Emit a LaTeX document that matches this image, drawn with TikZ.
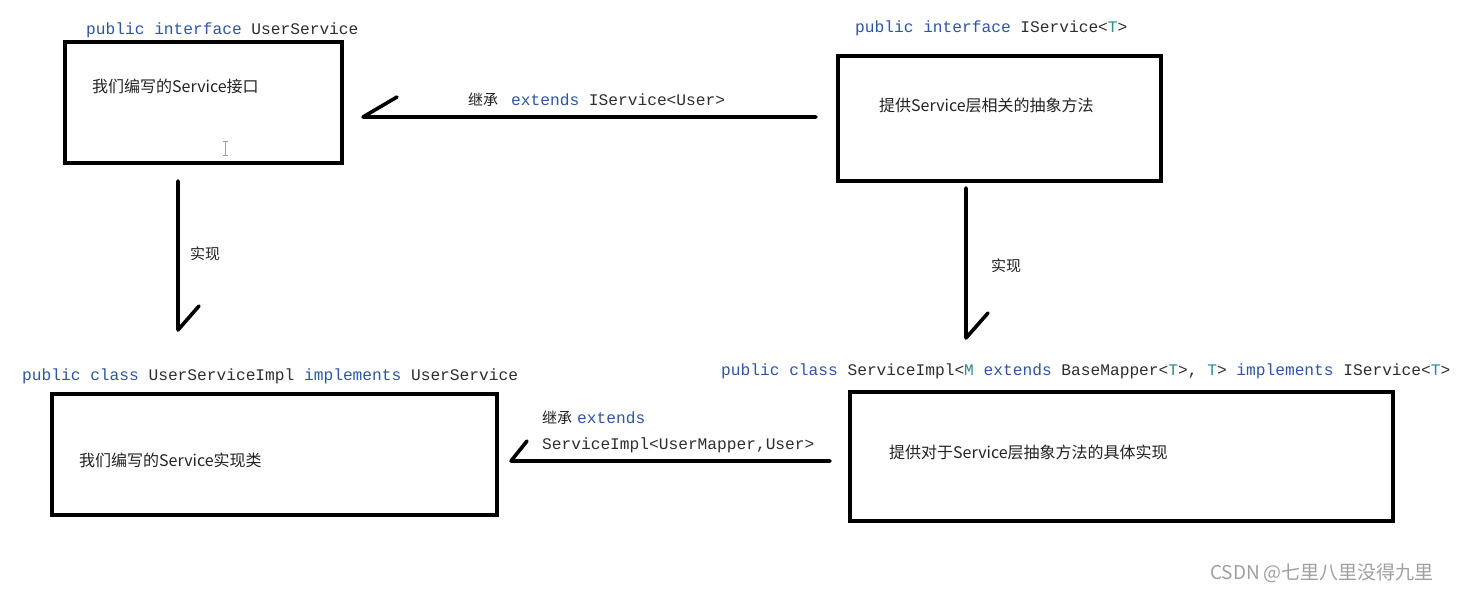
\documentclass[tikz,border=0pt]{standalone}
\usepackage{fontspec}
\newfontfamily\cjk{Noto Sans CJK SC}
\newfontfamily\code{Liberation Mono}
\definecolor{kw}{HTML}{2F55A4}
\definecolor{tp}{HTML}{2E8A8E}
\definecolor{idc}{HTML}{2E2E2E}
\definecolor{txt}{HTML}{222222}
\definecolor{wm}{HTML}{A0A0A0}
\newcommand{\K}[1]{\textcolor{kw}{#1}}
\newcommand{\Tp}[1]{\textcolor{tp}{#1}}
\newcommand{\codefont}{\code\fontsize{16.2}{18}\selectfont}
\begin{document}
\begin{tikzpicture}[x=1pt,y=-1pt,
  box/.style={draw=black, line width=3.6pt, inner sep=0pt},
  conn/.style={draw=black, line width=3.6pt, line cap=round, line join=round},
  codelbl/.style={anchor=west, inner sep=0pt, font=\codefont, text=idc},
  cnlbl/.style={anchor=west, inner sep=0pt, font=\cjk\fontsize{16}{18}\selectfont, text=txt},
  edgelbl/.style={anchor=west, inner sep=0pt, font=\cjk\fontsize{15}{18}\selectfont, text=txt}]
\useasboundingbox[fill=white] (0,0) rectangle (1457,593);

% boxes
\node[box, minimum width=277pt, minimum height=121pt] (b1) at (203.5,102.5) {};
\node[box, minimum width=323pt, minimum height=125pt] (b2) at (999.5,118.5) {};
\node[box, minimum width=445pt, minimum height=121pt] (b3) at (274.5,454.5) {};
\node[box, minimum width=543pt, minimum height=129pt] (b4) at (1121.5,456.5) {};

% titles
\node[codelbl] (t1) at (86,30) {\K{public} \K{interface} UserService};
\node[codelbl] (t2) at (855,28) {\K{public} \K{interface} IService<\Tp{T}>};
\node[codelbl] (t3) at (22,376) {\K{public} \K{class} UserServiceImpl \K{implements} UserService};
\node[codelbl] (t4) at (721,371) {\K{public} \K{class} ServiceImpl<\Tp{M} \K{extends} BaseMapper<\Tp{T}>, \Tp{T}> \K{implements} IService<\Tp{T}>};

% inner texts
\node[cnlbl] (i1) at (92,86) {我们编写的Service接口};
\node[cnlbl] (i2) at (879,105) {提供Service层相关的抽象方法};
\node[cnlbl] (i3) at (79,460) {我们编写的Service实现类};
\node[cnlbl] (i4) at (889,452) {提供对于Service层抽象方法的具体实现};

% text cursor
\draw[gray!75, line width=0.9pt] (225,141) -- (225,155) (222.5,141) -- (227.5,141) (222.5,155) -- (227.5,155);

% connectors
\coordinate (a1s) at (816,117); \coordinate (a1t) at (363,117); \coordinate (a1b) at (397,97);
\draw[conn] (a1s) -- (a1t) -- (a1b);
\node[edgelbl] (l1) at (468,100) {继承\hspace{13pt}{\codefont\K{extends} \textcolor{idc}{IService<User>}}};

\coordinate (a2s) at (830,461); \coordinate (a2t) at (511,461); \coordinate (a2b) at (527,441);
\draw[conn] (a2s) -- (a2t) -- (a2b);
\node[edgelbl] (l2a) at (542,418) {继承\hspace{5pt}{\codefont\K{extends}}};
\node[codelbl] (l2b) at (542,445) {ServiceImpl<UserMapper,User>};

\coordinate (a3s) at (178,181); \coordinate (a3t) at (178,330); \coordinate (a3b) at (199,306);
\draw[conn] (a3s) -- (a3t) -- (a3b);
\node[edgelbl] (l3) at (190,254) {实现};

\coordinate (a4s) at (966,188); \coordinate (a4t) at (966,338); \coordinate (a4b) at (988,313);
\draw[conn] (a4s) -- (a4t) -- (a4b);
\node[edgelbl] (l4) at (991,266) {实现};

% watermark
\node[anchor=west, inner sep=0pt, font=\cjk\fontsize{19}{20}\selectfont, text=wm] (wm) at (1210,573) {CSDN\hspace{4pt}@七里八里没得九里};
\end{tikzpicture}
\end{document}
